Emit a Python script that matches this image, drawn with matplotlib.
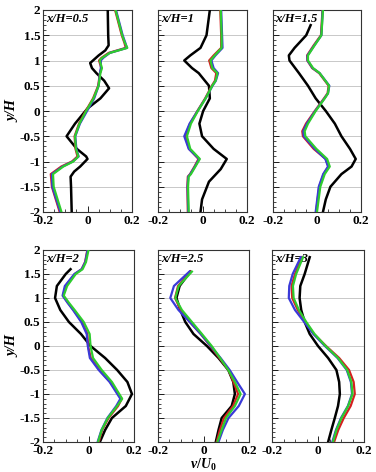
import matplotlib
matplotlib.use("Agg")
import matplotlib.pyplot as plt
from matplotlib.ticker import MultipleLocator, FormatStrFormatter

plt.rcParams["font.family"] = ["Liberation Serif", "DejaVu Serif"]
plt.rcParams["font.weight"] = "bold"
plt.rcParams["mathtext.fontset"] = "custom"
plt.rcParams["mathtext.it"] = "Liberation Serif:italic:bold"
plt.rcParams["mathtext.rm"] = "Liberation Serif:bold"

# panel titles
titles = ["x/H=0.5", "x/H=1", "x/H=1.5", "x/H=2", "x/H=2.5", "x/H=3"]

# x/H = 0.5
y_p1 = [2, 1.5, 1.35, 1.25, 1.15, 1.05, 1.0, 0.85, 0.75, 0.5, 0.25, 0, -0.25, -0.5,
        -0.75, -0.9, -1.0, -1.1, -1.25, -1.5, -2]
red_p1 = [0.124, 0.154, 0.166, 0.172, 0.095, 0.062, 0.052, 0.062, 0.056, 0.048, 0.025,
          -0.008, -0.038, -0.058, -0.054, -0.045, -0.07, -0.118, -0.165, -0.16, -0.125]
blue_p1 = [0.128, 0.158, 0.17, 0.177, 0.10, 0.07, 0.06, 0.06, 0.056, 0.05, 0.03,
           -0.002, -0.034, -0.055, -0.05, -0.04, -0.066, -0.112, -0.16, -0.158, -0.122]
green_p1 = [0.126, 0.156, 0.168, 0.179, 0.10, 0.065, 0.055, 0.065, 0.058, 0.05, 0.027,
            -0.006, -0.036, -0.056, -0.052, -0.041, -0.064, -0.109, -0.155, -0.152, -0.117]
yk_p1 = [2, 1.5, 1.3, 1.2, 1.1, 0.95, 0.85, 0.75, 0.6, 0.45, 0.25, 0.05, -0.25, -0.5,
         -0.75, -0.9, -0.95, -1.1, -1.2, -1.3, -1.5, -2]
black_p1 = [0.091, 0.093, 0.095, 0.08, 0.05, 0.012, 0.02, 0.04, 0.075, 0.097, 0.058, 0.0,
            -0.056, -0.094, -0.048, -0.006, 0.0, -0.033, -0.06, -0.076, -0.074, -0.071]

# x/H = 1
y_p2 = [2, 1.5, 1.25, 1.1, 1.0, 0.85, 0.75, 0.6, 0.5, 0.25, 0, -0.25, -0.5, -0.75,
        -0.95, -1.1, -1.25, -1.3, -1.5, -2]
red_p2 = [0.08, 0.084, 0.084, 0.05, 0.03, 0.04, 0.062, 0.056, 0.042, 0.012, -0.023,
          -0.056, -0.078, -0.06, -0.018, -0.036, -0.056, -0.066, -0.068, -0.066]
blue_p2 = [0.084, 0.088, 0.09, 0.058, 0.04, 0.05, 0.07, 0.06, 0.045, 0.014, -0.022,
           -0.058, -0.082, -0.062, -0.015, -0.034, -0.055, -0.064, -0.067, -0.064]
green_p2 = [0.082, 0.086, 0.086, 0.055, 0.036, 0.044, 0.067, 0.059, 0.044, 0.014, -0.021,
            -0.052, -0.07, -0.055, -0.012, -0.032, -0.052, -0.062, -0.065, -0.062]
yk_p2 = [2, 1.5, 1.25, 1.1, 1.0, 0.85, 0.75, 0.5, 0.25, 0, -0.25, -0.5, -0.75, -0.95,
         -1.15, -1.4, -1.75, -2]
black_p2 = [0.033, 0.018, -0.009, -0.055, -0.082, -0.047, -0.017, 0.029, 0.033, 0.003,
            -0.014, -0.002, 0.05, 0.109, 0.082, 0.029, -0.002, -0.009]

# x/H = 1.5
y_p3 = [2, 1.5, 1.3, 1.1, 1.0, 0.85, 0.75, 0.5, 0.35, 0.25, 0, -0.25, -0.4, -0.5, -0.75,
        -0.95, -1.1, -1.25, -1.5, -2]
red_p3 = [0.025, 0.018, -0.015, -0.045, -0.044, -0.022, 0.01, 0.053, 0.048, 0.032, -0.01,
          -0.05, -0.067, -0.064, -0.015, 0.04, 0.052, 0.03, 0.01, -0.004]
blue_p3 = [0.026, 0.02, -0.012, -0.043, -0.043, -0.02, 0.012, 0.056, 0.05, 0.034, -0.008,
           -0.046, -0.062, -0.06, -0.01, 0.038, 0.05, 0.028, 0.008, -0.006]
green_p3 = [0.027, 0.02, -0.011, -0.041, -0.041, -0.018, 0.012, 0.055, 0.05, 0.035, -0.006,
            -0.041, -0.056, -0.053, -0.003, 0.046, 0.058, 0.035, 0.015, 0.0]
yk_p3 = [1.7, 1.5, 1.25, 1.1, 1.0, 0.75, 0.5, 0.25, 0, -0.25, -0.5, -0.75, -0.95, -1.1,
         -1.25, -1.5, -1.75, -2]
black_p3 = [-0.029, -0.049, -0.102, -0.128, -0.125, -0.082, -0.041, -0.006, 0.04, 0.081,
            0.111, 0.15, 0.176, 0.157, 0.111, 0.061, 0.04, 0.027]

# x/H = 2
y_p4 = [2, 1.75, 1.6, 1.5, 1.25, 1.05, 0.9, 0.75, 0.5, 0.25, 0, -0.25, -0.5, -0.75, -1.1,
        -1.25, -1.5, -1.75, -2]
red_p4 = [-0.005, -0.015, -0.03, -0.06, -0.1, -0.112, -0.09, -0.066, -0.028, -0.005, -0.002,
          0.01, 0.048, 0.095, 0.146, 0.13, 0.088, 0.06, 0.045]
blue_p4 = [-0.004, -0.014, -0.03, -0.062, -0.104, -0.114, -0.092, -0.068, -0.032, -0.008,
           -0.003, 0.006, 0.045, 0.093, 0.14, 0.122, 0.083, 0.057, 0.04]
green_p4 = [0.0, -0.011, -0.026, -0.056, -0.094, -0.109, -0.086, -0.061, -0.021, 0.005, 0.009,
            0.02, 0.058, 0.103, 0.148, 0.126, 0.085, 0.058, 0.042]
yk_p4 = [1.6, 1.5, 1.25, 1.0, 0.75, 0.5, 0.25, 0, -0.25, -0.5, -0.75, -1.0, -1.25, -1.5,
         -1.75, -2]
black_p4 = [-0.079, -0.1, -0.139, -0.147, -0.124, -0.086, -0.033, 0.009, 0.073, 0.126, 0.171,
            0.191, 0.164, 0.103, 0.073, 0.05]

# x/H = 2.5
y_p5 = [1.55, 1.25, 1.0, 0.75, 0.5, 0.25, 0, -0.25, -0.5, -0.75, -1.0, -1.25, -1.5, -1.75, -2]
red_p5 = [-0.058, -0.112, -0.125, -0.1, -0.06, -0.012, 0.03, 0.07, 0.11, 0.132, 0.152, 0.13,
          0.09, 0.072, 0.058]
blue_p5 = [-0.062, -0.13, -0.146, -0.11, -0.06, -0.012, 0.032, 0.075, 0.115, 0.148, 0.182,
           0.155, 0.11, 0.085, 0.066]
green_p5 = [-0.051, -0.109, -0.124, -0.095, -0.051, -0.007, 0.036, 0.073, 0.109, 0.138, 0.163,
            0.138, 0.099, 0.08, 0.061]
yk_p5 = y_p5
black_p5 = [-0.058, -0.105, -0.119, -0.102, -0.08, -0.044, 0.015, 0.066, 0.109, 0.131, 0.138,
            0.124, 0.08, 0.066, 0.054]

# x/H = 3
y_p6 = [1.85, 1.5, 1.25, 1.0, 0.75, 0.5, 0.25, 0, -0.25, -0.5, -0.75, -1.0, -1.25, -1.5,
        -1.75, -2]
red_p6 = [-0.07, -0.1, -0.115, -0.112, -0.088, -0.055, -0.018, 0.035, 0.092, 0.135, 0.155,
          0.16, 0.142, 0.112, 0.088, 0.07]
blue_p6 = [-0.075, -0.11, -0.125, -0.127, -0.1, -0.06, -0.02, 0.03, 0.085, 0.125, 0.143,
           0.148, 0.13, 0.1, 0.078, 0.062]
green_p6 = [-0.065, -0.095, -0.109, -0.106, -0.083, -0.051, -0.015, 0.033, 0.087, 0.127,
            0.145, 0.15, 0.131, 0.102, 0.08, 0.065]
yk_p6 = y_p6
black_p6 = [-0.036, -0.058, -0.077, -0.08, -0.073, -0.058, -0.036, 0.0, 0.044, 0.08, 0.092,
            0.095, 0.087, 0.073, 0.058, 0.044]

panels = [
    (y_p1, red_p1, blue_p1, green_p1, yk_p1, black_p1),
    (y_p2, red_p2, blue_p2, green_p2, yk_p2, black_p2),
    (y_p3, red_p3, blue_p3, green_p3, yk_p3, black_p3),
    (y_p4, red_p4, blue_p4, green_p4, yk_p4, black_p4),
    (y_p5, red_p5, blue_p5, green_p5, yk_p5, black_p5),
    (y_p6, red_p6, blue_p6, green_p6, yk_p6, black_p6),
]

W, H = 376, 472
fig = plt.figure(figsize=(W / 100, H / 100), dpi=100)

# axes boxes in pixels: (left, top, right, bottom)
boxes = [
    (43, 10, 132, 212), (158, 10, 247, 212), (273, 10, 361, 212),
    (43, 250, 134, 442), (158, 250, 249, 442), (272, 250, 364, 442),
]

for i, (box, data, title) in enumerate(zip(boxes, panels, titles)):
    l, t, r, b = box
    ax = fig.add_axes([l / W, 1 - b / H, (r - l) / W, (b - t) / H])
    yc, red, blue, green, yk, black = data

    ax.plot(black, yk, color="black", lw=1.8, zorder=3)
    ax.plot(red, yc, color="#d42020", lw=1.6, zorder=4)
    ax.plot(blue, yc, color="#3a3ad8", lw=1.6, zorder=5)
    ax.plot(green, yc, color="#2ecc2e", lw=1.6, zorder=6)

    ax.set_xlim(-0.2, 0.2)
    ax.set_ylim(-2, 2)
    ax.xaxis.set_major_locator(MultipleLocator(0.2))
    ax.xaxis.set_minor_locator(MultipleLocator(0.05))
    ax.yaxis.set_major_locator(MultipleLocator(0.5))
    ax.yaxis.set_minor_locator(MultipleLocator(0.1))
    ax.xaxis.set_major_formatter(FormatStrFormatter("%g"))
    ax.yaxis.set_major_formatter(FormatStrFormatter("%g"))
    ax.grid(axis="y", which="major", color="#c8c8c8", lw=0.7)
    ax.tick_params(which="both", direction="in", top=False, right=False,
                   labelsize=9.5, pad=2)
    ax.tick_params(which="major", length=4, width=0.6)
    ax.tick_params(which="minor", length=2, width=0.5)
    for s in ax.spines.values():
        s.set_linewidth(0.8)
        s.set_color("#333333")
    if i % 3 != 0:
        ax.tick_params(labelleft=False)
    else:
        ax.set_ylabel("y/H", fontsize=10.5, fontstyle="italic", fontweight="bold",
                      labelpad=0)
    if i == 4:
        ax.set_xlabel(r"$v/U_0$", fontsize=10, labelpad=0)
    ax.text(0.03, 0.985, title, transform=ax.transAxes, ha="left", va="top",
            fontsize=9, fontstyle="italic", fontweight="bold")

fig.savefig("out.png", dpi=100)
